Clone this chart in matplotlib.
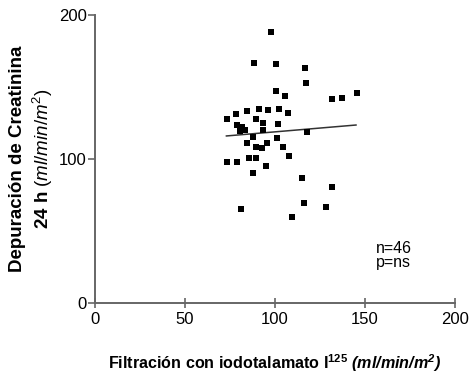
import matplotlib
matplotlib.use("Agg")
import matplotlib.pyplot as plt
import numpy as np

plt.rcParams['font.family'] = ['Liberation Sans', 'DejaVu Sans']
plt.rcParams['mathtext.fontset'] = 'custom'
plt.rcParams['mathtext.rm'] = 'Liberation Sans'
plt.rcParams['mathtext.it'] = 'Liberation Sans:italic'
plt.rcParams['mathtext.bf'] = 'Liberation Sans:bold'
plt.rcParams['mathtext.bfit'] = 'Liberation Sans:italic:bold'

# Data
filtracion = [97.8, 88.3, 100.6, 116.7, 117.2, 100.6, 105.6, 131.7, 137.2, 145.6,
              73.3, 78.3, 84.4, 91.1, 96.1, 102.2, 107.2, 89.4, 78.9, 93.3,
              101.7, 80.6, 83.3, 93.3, 87.8, 117.8, 101.1, 84.4, 89.4, 95.6,
              92.8, 104.4, 107.8, 85.6, 89.4, 73.3, 78.9, 95.0, 87.8, 115.0,
              131.7, 116.1, 128.3, 81.1, 109.4, 81.7]
depuracion = [188, 167, 166, 163, 153, 147, 144, 142, 142.5, 146,
              128, 131, 133, 135, 134, 134.7, 131.9, 127.8, 123.6, 125,
              124.3, 119.4, 120, 120, 115.3, 118.8, 114.6, 111, 108, 111,
              107.6, 108.3, 102, 100.7, 100.7, 97.9, 97.9, 95, 90, 86.8,
              80.6, 69.4, 66.7, 65.3, 59.7, 122]
fit_x = [73, 145]
fit_y = [116, 123.6]
x_ticks = [0, 50, 100, 150, 200]
y_ticks = [0, 100, 200]

fig = plt.figure(figsize=(4.72, 3.77), dpi=100)
ax = fig.add_axes([95/472, 1-303/377, 360/472, 288/377])

ax.scatter(filtracion, depuracion, marker='s', s=22, color='black', linewidths=0, zorder=3)
ax.plot(fit_x, fit_y, color='#333333', lw=1.1, zorder=2)

ax.set_xlim(0, 200)
ax.set_ylim(0, 200)
ax.set_xticks(x_ticks)
ax.set_yticks(y_ticks)
for s in ['top', 'right']:
    ax.spines[s].set_visible(False)
for s in ['left', 'bottom']:
    ax.spines[s].set_color('#666666')
    ax.spines[s].set_linewidth(1.4)
ax.tick_params(axis='x', direction='inout', length=7, width=1.2, color='#666666',
               labelsize=12, pad=3)
ax.tick_params(axis='y', direction='out', length=5, width=1.2, color='#666666',
               labelsize=12, pad=1)

ax.set_xlabel(r"Filtración con iodotalamato I$^{\mathbf{125}}$ $\mathbfit{(ml/min/m^2)}$",
              fontsize=11.6, fontweight='bold')
ax.xaxis.set_label_coords(0.5, -0.172)
ax.set_ylabel("Depuración de Creatinina\n24 h $\\mathit{(ml/min/m^2)}$",
              fontsize=13.5, fontweight='bold', linespacing=1.3)
ax.yaxis.set_label_coords(-0.11, 0.5)

ax.text(156, 38, "n=46", fontsize=11.5, va='center', ha='left')
ax.text(156, 28, "p=ns", fontsize=11.5, va='center', ha='left')

fig.savefig("out.png", dpi=100)
